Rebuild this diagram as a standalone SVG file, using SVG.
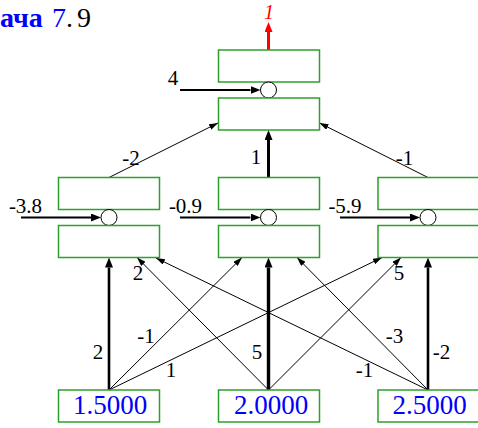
<svg xmlns="http://www.w3.org/2000/svg" width="478" height="428" viewBox="0 0 478 428">
<style>
.box{fill:#fff;stroke:#2ca02c;stroke-width:1.5}
.node{fill:#fff;stroke:#000;stroke-width:1}
.thin{stroke:#000;stroke-width:1;fill:none;marker-end:url(#ah)}
.thick{stroke:#000;fill:none;marker-end:url(#ahb)}
.lbl{font-family:"Liberation Serif",serif;font-size:21px;fill:#000;text-anchor:middle}
.val{font-family:"Liberation Serif",serif;font-size:27px;fill:#0000ff;text-anchor:middle}
</style>
<defs>
<marker id="ah" viewBox="0 -3 9 6" refX="9" refY="0" markerWidth="9" markerHeight="6" markerUnits="userSpaceOnUse" orient="auto"><path d="M0,-3 L9,0 L0,3 z" fill="#000"/></marker>
<marker id="ahb" viewBox="0 -4 10 8" refX="0" refY="0" markerWidth="10" markerHeight="8" markerUnits="userSpaceOnUse" orient="auto"><path d="M0,-4 L10,0 L0,4 z" fill="#000"/></marker>
<marker id="ahr" viewBox="0 -4 10 8" refX="0" refY="0" markerWidth="10" markerHeight="8" markerUnits="userSpaceOnUse" orient="auto"><path d="M0,-4 L10,0 L0,4 z" fill="#ff0000"/></marker>
</defs>
<text x="0" y="27" font-family="Liberation Serif,serif" font-size="28" font-weight="bold" fill="#0000ff">ача</text>
<text y="27" font-family="Liberation Serif,serif" font-size="28"><tspan x="52" fill="#0000ff">7</tspan><tspan x="66" fill="#000">.</tspan><tspan x="77" fill="#000">9</tspan></text>
<g id="connectors">
<line x1="268.5" y1="50" x2="268.5" y2="32" stroke="#ff0000" stroke-width="3" marker-end="url(#ahr)"/>
<line class="thick" stroke-width="2" x1="180" y1="90" x2="250.5" y2="90"/>
<line class="thick" stroke-width="2" x1="21" y1="217.5" x2="91" y2="217.5"/>
<line class="thick" stroke-width="2" x1="180" y1="217.5" x2="250.5" y2="217.5"/>
<line class="thick" stroke-width="2" x1="340" y1="217.5" x2="410" y2="217.5"/>
<line class="thin" x1="109" y1="177.5" x2="218" y2="123"/>
<line class="thick" stroke-width="3" x1="268.5" y1="177.5" x2="268.5" y2="140"/>
<line class="thin" x1="428" y1="177.5" x2="319.5" y2="123"/>
<line class="thick" stroke-width="2.6" x1="109" y1="390" x2="109" y2="267.5"/>
<line class="thin" x1="109" y1="390" x2="242" y2="257.5"/>
<line class="thin" x1="109" y1="390" x2="382" y2="257.5"/>
<line class="thin" x1="268.5" y1="390" x2="137" y2="257.5"/>
<line class="thick" stroke-width="3.4" x1="268.5" y1="390" x2="268.5" y2="267.5"/>
<line class="thin" x1="268.5" y1="390" x2="401" y2="257.5"/>
<line class="thin" x1="428" y1="390" x2="156" y2="258"/>
<line class="thin" x1="428" y1="390" x2="297" y2="257.5"/>
<line class="thick" stroke-width="2.6" x1="428" y1="390" x2="428" y2="267.5"/>
<text class="lbl" x="173" y="85">4</text>
<text class="lbl" x="25.5" y="213">-3.8</text>
<text class="lbl" x="185.5" y="213">-0.9</text>
<text class="lbl" x="345" y="213">-5.9</text>
<text class="lbl" x="131" y="165">-2</text>
<text class="lbl" x="256" y="164">1</text>
<text class="lbl" x="404.5" y="165">-1</text>
<text class="lbl" x="98" y="359">2</text>
<text class="lbl" x="146" y="343">-1</text>
<text class="lbl" x="171" y="377">1</text>
<text class="lbl" x="138" y="280">2</text>
<text class="lbl" x="257" y="359">5</text>
<text class="lbl" x="399" y="280">5</text>
<text class="lbl" x="364.5" y="377">-1</text>
<text class="lbl" x="394.5" y="343">-3</text>
<text class="lbl" x="441.5" y="359">-2</text>
<text x="269" y="19" font-family="Liberation Serif,serif" font-size="20" font-style="italic" fill="#ff0000" text-anchor="middle">1</text>
</g>
<g id="out">
<rect class="box" x="218.5" y="50" width="101" height="32"/>
<circle class="node" cx="268.5" cy="90" r="8"/>
<rect class="box" x="218.5" y="98" width="101" height="32"/>
</g>
<g id="h1">
<rect class="box" x="58.5" y="177.5" width="101" height="32"/>
<circle class="node" cx="109" cy="217.5" r="8"/>
<rect class="box" x="58.5" y="225.5" width="101" height="32"/>
</g>
<g id="h2">
<rect class="box" x="218.5" y="177.5" width="101" height="32"/>
<circle class="node" cx="268.5" cy="217.5" r="8"/>
<rect class="box" x="218.5" y="225.5" width="101" height="32"/>
</g>
<g id="h3">
<rect class="box" x="378" y="177.5" width="102" height="32"/>
<circle class="node" cx="428" cy="217.5" r="8"/>
<rect class="box" x="378" y="225.5" width="102" height="32"/>
</g>
<g id="in1">
<rect class="box" x="58.5" y="390" width="101" height="32"/>
<text class="val" x="110" y="414">1.5000</text>
</g>
<g id="in2">
<rect class="box" x="218.5" y="390" width="101" height="32"/>
<text class="val" x="271" y="414">2.0000</text>
</g>
<g id="in3">
<rect class="box" x="378" y="390" width="102" height="32"/>
<text class="val" x="429.5" y="414">2.5000</text>
</g>
</svg>
